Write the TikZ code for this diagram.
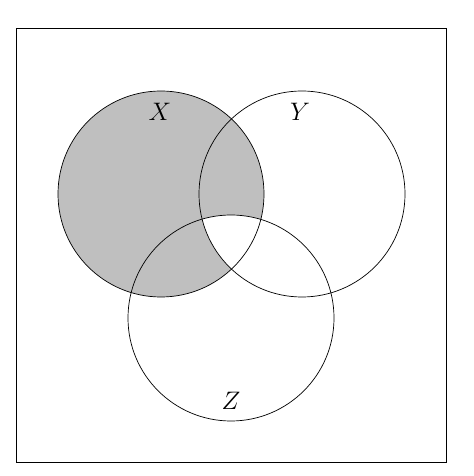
\documentclass[tikz,border=0pt]{standalone}
\usepackage{tikz}

\begin{document}
\begin{tikzpicture}

    \useasboundingbox (0, 0) rectangle (9.48, 9.52);

    % Рамка
    \draw (0.32, 0.28) rectangle (8.92, 8.96);

    % Центры и радиус
    \def\r{2.06}
    \coordinate (cX) at (3.22, 5.64);
    \coordinate (cY) at (6.04, 5.64);
    \coordinate (cZ) at (4.62, 3.16);

    % Заливка X без пересечения Y и Z
    \fill[black!25] (cX) circle (\r);
    \begin{scope}
        \clip (cX) circle (\r);
        \clip (cY) circle (\r);
        \fill[white] (cZ) circle (\r);
    \end{scope}

    % Окружности
    \draw (cX) circle (\r);
    \draw (cY) circle (\r);
    \draw (cZ) circle (\r);

    % Подписи
    \node (lX) at (3.2, 7.28) {\Large $X$};
    \node (lY) at (6.0, 7.28) {\Large $Y$};
    \node (lZ) at (4.62, 1.5) {\Large $Z$};
\end{tikzpicture}
\end{document}
